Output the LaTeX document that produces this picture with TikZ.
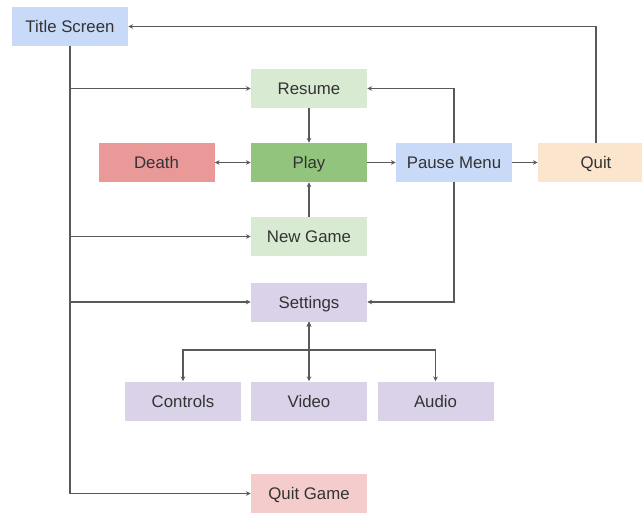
\documentclass[tikz,border=0pt]{standalone}
\usepackage{fontspec}
\setmainfont{Liberation Sans}
\usetikzlibrary{arrows.meta}
\definecolor{cblue}{HTML}{C9DAF8}
\definecolor{cgreenl}{HTML}{D9EAD3}
\definecolor{cgreen}{HTML}{93C47D}
\definecolor{cred}{HTML}{EA9999}
\definecolor{corange}{HTML}{FCE5CD}
\definecolor{cpurple}{HTML}{D9D2E9}
\definecolor{cpink}{HTML}{F4CCCC}
\begin{document}
\begin{tikzpicture}[x=0.75pt,y=-0.75pt,
  box/.style={minimum width=87pt, minimum height=29.25pt, inner sep=0pt,
    text height=10.5pt, text depth=1.5pt,
    font=\fontsize{12.6}{15}\selectfont, text=black!80},
  conn/.style={draw=black!65, line width=0.8pt, -{Stealth[length=3.6pt,width=3.4pt]}},
  dconn/.style={draw=black!65, line width=0.8pt, {Stealth[length=3.6pt,width=3.4pt]}-{Stealth[length=3.6pt,width=3.4pt]}}]
\useasboundingbox (0,0) rectangle (642,512);
\clip (0,0) rectangle (642,512);
\fill[white] (0,0) rectangle (642,512);
\node[box, fill=cblue] (title) at (70,26.5) {Title Screen};
\node[box, fill=cgreenl] (resume) at (309,88.5) {Resume};
\node[box, fill=cred] (death) at (156.5,162.5) {Death};
\node[box, fill=cgreen] (play) at (309,162.5) {Play};
\node[box, fill=cblue] (pause) at (454,162.5) {Pause Menu};
\node[box, fill=corange] (quit) at (596,162.5) {Quit};
\node[box, fill=cgreenl] (newgame) at (309,236.5) {New Game};
\node[box, fill=cpurple] (settings) at (309,302) {Settings};
\node[box, fill=cpurple] (controls) at (183,401) {Controls};
\node[box, fill=cpurple] (video) at (309,401) {Video};
\node[box, fill=cpurple] (audio) at (435.5,401) {Audio};
\node[box, fill=cpink] (quitgame) at (309,493.5) {Quit Game};
\coordinate (bus) at (309,350);
% Title Screen branches
\draw[conn] (title.south) |- (resume.west);
\draw[conn] (title.south) |- (newgame.west);
\draw[conn] (title.south) |- (settings.west);
\draw[conn] (title.south) |- (quitgame.west);
% Quit back to title
\draw[conn] (quit.north) |- (title.east);
% Pause menu
\draw[conn] (pause.north) |- (resume.east);
\draw[conn] (pause.south) |- (settings.east);
\draw[conn] (pause) -- (quit);
\draw[conn] (play) -- (pause);
\draw[dconn] (death) -- (play);
\draw[conn] (resume) -- (play);
\draw[conn] (newgame) -- (play);
% Settings children
\draw[dconn] (settings.south) -- (bus) -| (controls.north);
\draw[dconn] (settings.south) -- (bus) -- (video.north);
\draw[dconn] (settings.south) -- (bus) -| (audio.north);
\end{tikzpicture}
\end{document}
